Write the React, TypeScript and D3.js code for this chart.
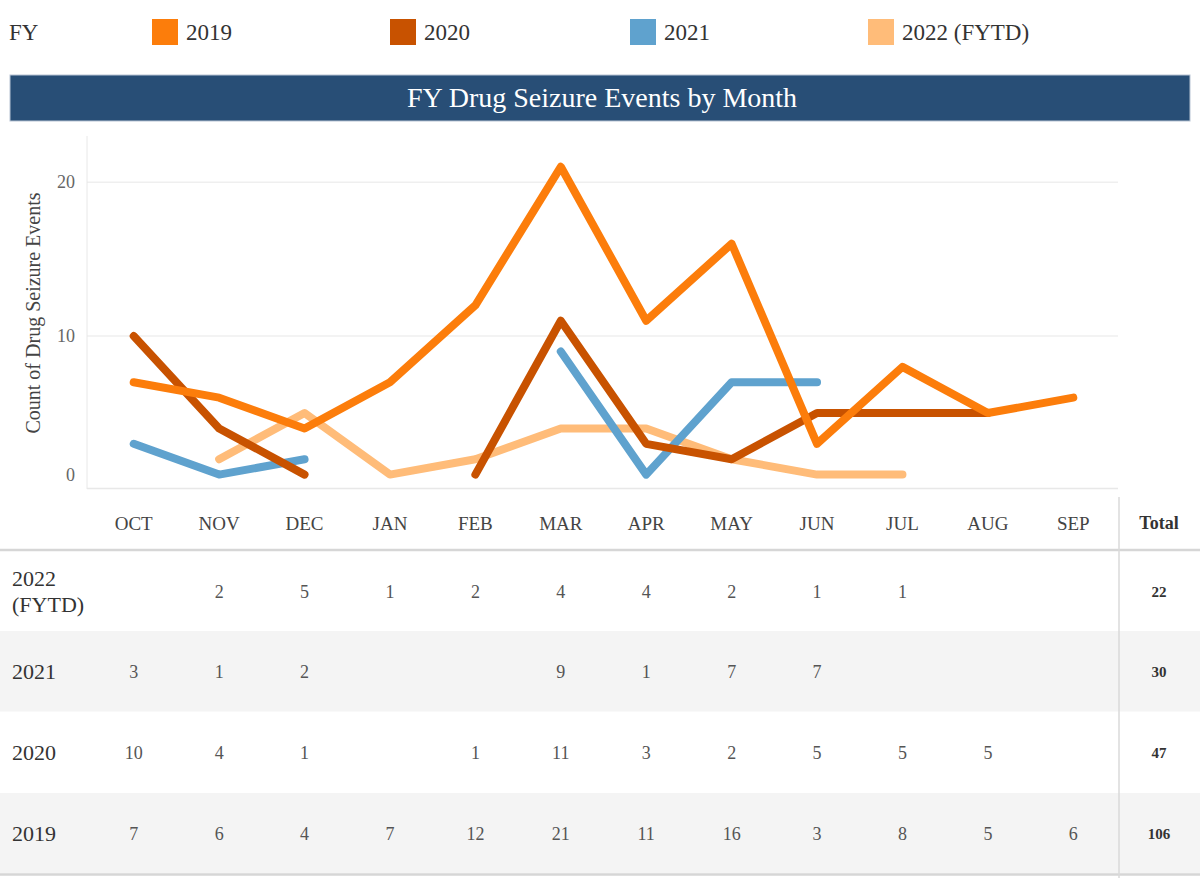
import { useEffect, useRef } from "react"
import * as d3 from "d3"

const months = ["OCT", "NOV", "DEC", "JAN", "FEB", "MAR", "APR", "MAY", "JUN", "JUL", "AUG", "SEP"]

const fy2019 = [7, 6, 4, 7, 12, 21, 11, 16, 3, 8, 5, 6]
const fy2020 = [10, 4, 1, null, 1, 11, 3, 2, 5, 5, 5, null]
const fy2021 = [3, 1, 2, null, null, 9, 1, 7, 7, null, null, null]
const fy2022 = [null, 2, 5, 1, 2, 4, 4, 2, 1, 1, null, null]

const yTicks = [0, 10, 20]

interface Series {
  key: string
  label: string
  color: string
  values: (number | null)[]
}

// legend / table order is 2019..2022, lines are drawn 2022 first so 2019 sits on top
const series: Series[] = [
  { key: "2019", label: "2019", color: "#fc7d0b", values: fy2019 },
  { key: "2020", label: "2020", color: "#c85200", values: fy2020 },
  { key: "2021", label: "2021", color: "#5fa2ce", values: fy2021 },
  { key: "2022", label: "2022 (FYTD)", color: "#ffbc79", values: fy2022 },
]

const FONT = "'Liberation Serif', 'Times New Roman', serif"

export default function App() {
  const svgRef = useRef<SVGSVGElement>(null)

  useEffect(() => {
    const svg = d3.select(svgRef.current!)
    svg.selectAll("*").remove()
    const width = 1200
    const height = 878

    svg.append("rect").attr("width", width).attr("height", height).attr("fill", "#fff")

    // Legend row
    const legend = svg.append("g").attr("font-family", FONT).attr("font-size", 23).attr("fill", "#333")
    legend.append("text").attr("x", 9).attr("y", 40).text("FY")
    const legendX = [152, 390, 630, 868]
    series.forEach((s, i) => {
      legend
        .append("rect")
        .attr("x", legendX[i])
        .attr("y", 19)
        .attr("width", 26)
        .attr("height", 26)
        .attr("fill", s.color)
      legend
        .append("text")
        .attr("x", legendX[i] + 34)
        .attr("y", 40)
        .text(s.label)
    })

    // Title bar
    svg
      .append("rect")
      .attr("x", 10)
      .attr("y", 75)
      .attr("width", 1180)
      .attr("height", 46)
      .attr("fill", "#284e76")
      .attr("stroke", "#b8c4d3")
      .attr("stroke-width", 1)
    svg
      .append("text")
      .attr("x", 602)
      .attr("y", 107)
      .attr("text-anchor", "middle")
      .attr("font-family", FONT)
      .attr("font-size", 28)
      .attr("fill", "#fff")
      .text("FY Drug Seizure Events by Month")

    // Plot
    const left = 87
    const right = 1118
    const x = d3.scaleBand<string>().domain(months).range([91, 1116])
    const cx = (m: string) => (x(m) ?? 0) + x.bandwidth() / 2
    const y = d3.scaleLinear().domain([0, 23]).range([490, 136])

    const grid = svg.append("g")
    yTicks.filter((t) => t > 0).forEach((t) => {
      grid
        .append("line")
        .attr("x1", left)
        .attr("x2", right)
        .attr("y1", y(t))
        .attr("y2", y(t))
        .attr("stroke", "#efefef")
        .attr("stroke-width", 1.5)
    })
    grid
      .append("line")
      .attr("x1", left)
      .attr("x2", left)
      .attr("y1", 136)
      .attr("y2", 489)
      .attr("stroke", "#e8e8e8")
    grid
      .append("line")
      .attr("x1", left)
      .attr("x2", right)
      .attr("y1", 488.5)
      .attr("y2", 488.5)
      .attr("stroke", "#e8e8e8")
      .attr("stroke-width", 1.5)

    // y tick labels; the bottom one is nudged up to stay inside the pane
    grid
      .selectAll("text.tick")
      .data(yTicks)
      .enter()
      .append("text")
      .attr("class", "tick")
      .attr("x", 75)
      .attr("y", (d) => Math.min(y(d), y.range()[0] - 15))
      .attr("dy", "0.35em")
      .attr("text-anchor", "end")
      .attr("font-family", FONT)
      .attr("font-size", 18)
      .attr("fill", "#666")
      .text((d) => d)

    svg
      .append("text")
      .attr("transform", `translate(40,313) rotate(-90)`)
      .attr("text-anchor", "middle")
      .attr("font-family", FONT)
      .attr("font-size", 20)
      .attr("fill", "#444")
      .text("Count of Drug Seizure Events")

    const line = d3
      .line<number | null>()
      .defined((d) => d !== null)
      .x((_, i) => cx(months[i]))
      .y((d) => y(d as number))

    const linesG = svg.append("g")
    series
      .slice()
      .reverse()
      .forEach((s) => {
        linesG
          .append("path")
          .attr("d", line(s.values))
          .attr("fill", "none")
          .attr("stroke", s.color)
          .attr("stroke-width", 8)
          .attr("stroke-linecap", "round")
          .attr("stroke-linejoin", "round")
      })

    // Table
    const table = svg.append("g").attr("font-family", FONT)
    const rows = series.slice().reverse()
    const rowTop = [551, 631, 712, 793]
    const rowH = 80.5
    rows.forEach((_, i) => {
      table
        .append("rect")
        .attr("x", 0)
        .attr("y", rowTop[i])
        .attr("width", width)
        .attr("height", rowH)
        .attr("fill", i % 2 === 1 ? "#f4f4f4" : "#fff")
    })
    table
      .append("line")
      .attr("x1", 0)
      .attr("x2", width)
      .attr("y1", 550)
      .attr("y2", 550)
      .attr("stroke", "#d6d6d6")
      .attr("stroke-width", 2.5)
    table
      .append("line")
      .attr("x1", 0)
      .attr("x2", width)
      .attr("y1", 874.5)
      .attr("y2", 874.5)
      .attr("stroke", "#d6d6d6")
      .attr("stroke-width", 2.5)
    table
      .append("line")
      .attr("x1", 1119)
      .attr("x2", 1119)
      .attr("y1", 497)
      .attr("y2", height)
      .attr("stroke", "#dadada")
      .attr("stroke-width", 1.5)

    // header
    months.forEach((m) => {
      table
        .append("text")
        .attr("x", cx(m))
        .attr("y", 523)
        .attr("dy", "0.35em")
        .attr("text-anchor", "middle")
        .attr("font-size", 19)
        .attr("fill", "#444")
        .text(m)
    })
    table
      .append("text")
      .attr("x", 1159)
      .attr("y", 523)
      .attr("dy", "0.35em")
      .attr("text-anchor", "middle")
      .attr("font-size", 18)
      .attr("font-weight", "bold")
      .attr("fill", "#333")
      .text("Total")

    rows.forEach((s, i) => {
      const mid = rowTop[i] + rowH / 2
      const lbl = table
        .append("text")
        .attr("x", 12)
        .attr("font-size", 22)
        .attr("fill", "#333")
      if (s.key === "2022") {
        lbl.append("tspan").attr("x", 12).attr("y", mid - 13).attr("dy", "0.35em").text("2022")
        lbl.append("tspan").attr("x", 12).attr("y", mid + 13).attr("dy", "0.35em").text("(FYTD)")
      } else {
        lbl.attr("y", mid).attr("dy", "0.35em").text(s.label)
      }
      s.values.forEach((v, j) => {
        if (v === null) return
        table
          .append("text")
          .attr("x", cx(months[j]))
          .attr("y", mid)
          .attr("dy", "0.35em")
          .attr("text-anchor", "middle")
          .attr("font-size", 18)
          .attr("fill", "#555")
          .text(v)
      })
      table
        .append("text")
        .attr("x", 1159)
        .attr("y", mid)
        .attr("dy", "0.35em")
        .attr("text-anchor", "middle")
        .attr("font-size", 15)
        .attr("font-weight", "bold")
        .attr("fill", "#333")
        .text(d3.sum(s.values, (d) => d ?? 0))
    })
  }, [])

  return (
    <svg
      ref={svgRef}
      width={1200}
      height={878}
      style={{ position: "absolute", left: 0, top: 0, display: "block" }}
    />
  )
}
